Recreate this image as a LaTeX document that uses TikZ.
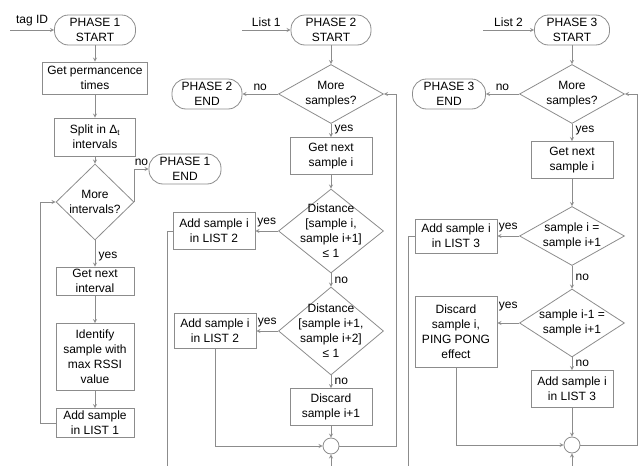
\documentclass[tikz,border=0pt]{standalone}
\usepackage{fontspec}
\setmainfont{Liberation Sans}
\usetikzlibrary{positioning, arrows, shapes}
\definecolor{linegray}{RGB}{140,140,140}
\tikzstyle{process} = [rectangle, minimum width=82pt, minimum height=37pt, text centered, align=center, draw=linegray, line width=0.8pt, inner sep=1pt]
\tikzstyle{terminal} = [rectangle, rounded corners=14pt, minimum width=72pt, minimum height=30pt, text centered, align=center, draw=linegray, line width=0.8pt, inner sep=1pt]
\tikzstyle{decision} = [diamond, minimum width=105pt, minimum height=59pt, text centered, align=center, draw=linegray, line width=0.8pt, inner sep=-12pt]
\tikzstyle{joint} = [circle, minimum size=16pt, draw=linegray, line width=0.8pt, inner sep=0pt]
\tikzstyle{arrow} = [linegray, text=black, line width=0.8pt, ->, >=stealth]
\tikzstyle{line} = [linegray, line width=0.8pt]

\begin{document}
\begin{tikzpicture}[font=\fontsize{12}{15}\selectfont]
        \useasboundingbox (0,0) rectangle (641pt,-466pt);

        % phase 1
        \node (p1start) [terminal, minimum width=81pt] at (95pt,-30pt) {PHASE 1\\START};
        \node (permtimes) [process, below of=p1start, node distance=48pt, minimum width=105pt, minimum height=32pt] {Get permancence\\times};
        \node (split) [process, below of=permtimes, node distance=59pt, minimum width=81pt, minimum height=38pt] {Split in Δ\textsubscript{t}\\intervals};
        \node (moreint) [decision, below of=split, node distance=65pt, minimum width=78pt, minimum height=76pt] {More\\intervals?};
        \node (nextint) [process, below of=moreint, node distance=79pt, minimum width=78pt, minimum height=28pt] {Get next\\interval};
        \node (identify) [process, below of=nextint, node distance=76pt, minimum width=78pt, minimum height=67pt] {Identify\\sample with\\max RSSI\\value};
        \node (addl1) [process, below of=identify, node distance=66pt, minimum width=78pt, minimum height=29pt] {Add sample\\in LIST 1};
        \node (p1end) [terminal, right of=moreint, node distance=90pt, yshift=33pt] {PHASE 1\\END};
        \node (in1) [coordinate, left of=p1start, node distance=85pt] {};

        % phase 2
        \node (p2start) [terminal, right of=p1start, node distance=236pt, minimum width=80pt] {PHASE 2\\START};
        \node (more2) [decision, below of=p2start, node distance=64pt] {More\\samples?};
        \node (p2end) [terminal, left of=more2, node distance=124pt, minimum width=70pt] {PHASE 2\\END};
        \node (next2) [process, below of=more2, node distance=62pt] {Get next\\sample i};
        \node (dist1) [decision, below of=next2, node distance=75pt, minimum height=84pt] {Distance\\{[}sample i,\\sample i+1{]}\\≤ 1};
        \node (add2a) [process, left of=dist1, node distance=117pt] {Add sample i\\in LIST 2};
        \node (dist2) [decision, below of=dist1, node distance=100pt, minimum height=88pt] {Distance\\{[}sample i+1,\\sample i+2{]}\\≤ 1};
        \node (add2b) [process, left of=dist2, node distance=116pt, minimum height=35pt] {Add sample i\\in LIST 2};
        \node (discard2) [process, below of=dist2, node distance=76pt] {Discard\\sample i+1};
        \node (join2) [joint, below of=discard2, node distance=39pt] {};
        \node (in2) [coordinate, left of=p2start, node distance=89pt] {};
        \node (back2) [coordinate, below of=join2, node distance=22pt] {};
        \node (out2) [coordinate, below of=add2a, node distance=237pt, xshift=-47pt] {};

        % phase 3
        \node (p3start) [terminal, right of=p2start, node distance=241pt, minimum width=75pt] {PHASE 3\\START};
        \node (more3) [decision, below of=p3start, node distance=64pt] {More\\samples?};
        \node (p3end) [terminal, left of=more3, node distance=123pt, minimum width=73pt] {PHASE 3\\END};
        \node (next3) [process, below of=more3, node distance=66pt] {Get next\\sample i};
        \node (same3) [decision, below of=next3, node distance=76pt] {sample i =\\sample i+1};
        \node (add3a) [process, left of=same3, node distance=116pt, minimum height=34pt] {Add sample i\\in LIST 3};
        \node (pp3) [decision, below of=same3, node distance=87pt, minimum height=68pt] {sample i-1 =\\sample i+1};
        \node (discard3) [process, left of=pp3, node distance=116pt, yshift=-9pt, minimum height=71pt] {Discard\\sample i,\\PING PONG\\effect};
        \node (add3b) [process, below of=pp3, node distance=66pt] {Add sample i\\in LIST 3};
        \node (join3) [joint, below of=add3b, node distance=56pt] {};
        \node (in3) [coordinate, left of=p3start, node distance=89pt] {};
        \node (back3) [coordinate, below of=join3, node distance=22pt] {};
        \node (out3) [coordinate, below of=add3a, node distance=230pt, xshift=-48pt] {};

        \draw [arrow] (in1) -- node[above]{tag ID} (p1start);
        \draw [arrow] (p1start) -- (permtimes);
        \draw [arrow] (permtimes) -- (split);
        \draw [arrow] (split) -- (moreint);
        \draw [arrow] (moreint.east) |- node[pos=0.75, above]{no} (p1end);
        \draw [arrow] (moreint) -- node[pos=0.6, right]{yes} (nextint);
        \draw [arrow] (nextint) -- (identify);
        \draw [arrow] (identify) -- (addl1);
        \draw [arrow] (addl1.west) -- ++(-15pt,0) |- (moreint.west);

        \draw [arrow] (in2) -- node[above]{List 1} (p2start);
        \draw [arrow] (p2start) -- (more2);
        \draw [arrow] (more2) -- node[above]{no} (p2end);
        \draw [arrow] (more2) -- node[pos=0.4, right]{yes} (next2);
        \draw [arrow] (next2) -- (dist1);
        \draw [arrow] (dist1) -- node[above]{yes} (add2a);
        \draw [arrow] (dist1) -- node[right]{no} (dist2);
        \draw [arrow] (dist2) -- node[above]{yes} (add2b);
        \draw [arrow] (dist2) -- node[right]{no} (discard2);
        \draw [arrow] (discard2) -- (join2);
        \draw [arrow] (add2b) |- (join2);
        \draw [arrow] (join2.east) -- ++(57pt,0) |- (more2.east);
        \draw [arrow] (back2) -- (join2);
        \draw [line] (add2a.west) -| (out2);

        \draw [arrow] (in3) -- node[above]{List 2} (p3start);
        \draw [arrow] (p3start) -- (more3);
        \draw [arrow] (more3) -- node[above]{no} (p3end);
        \draw [arrow] (more3) -- node[pos=0.4, right]{yes} (next3);
        \draw [arrow] (next3) -- (same3);
        \draw [arrow] (same3) -- node[above]{yes} (add3a);
        \draw [arrow] (same3) -- node[right]{no} (pp3);
        \draw [arrow] (pp3.west) -- node[above, yshift=8pt]{yes} (pp3.west -| discard3.east);
        \draw [arrow] (pp3) -- node[right]{no} (add3b);
        \draw [arrow] (add3b) -- (join3);
        \draw [arrow] (discard3) |- (join3);
        \draw [arrow] (join3.east) -- ++(57pt,0) |- (more3.east);
        \draw [arrow] (back3) -- (join3);
        \draw [line] (add3a.west) -| (out3);

\end{tikzpicture}
\end{document}
